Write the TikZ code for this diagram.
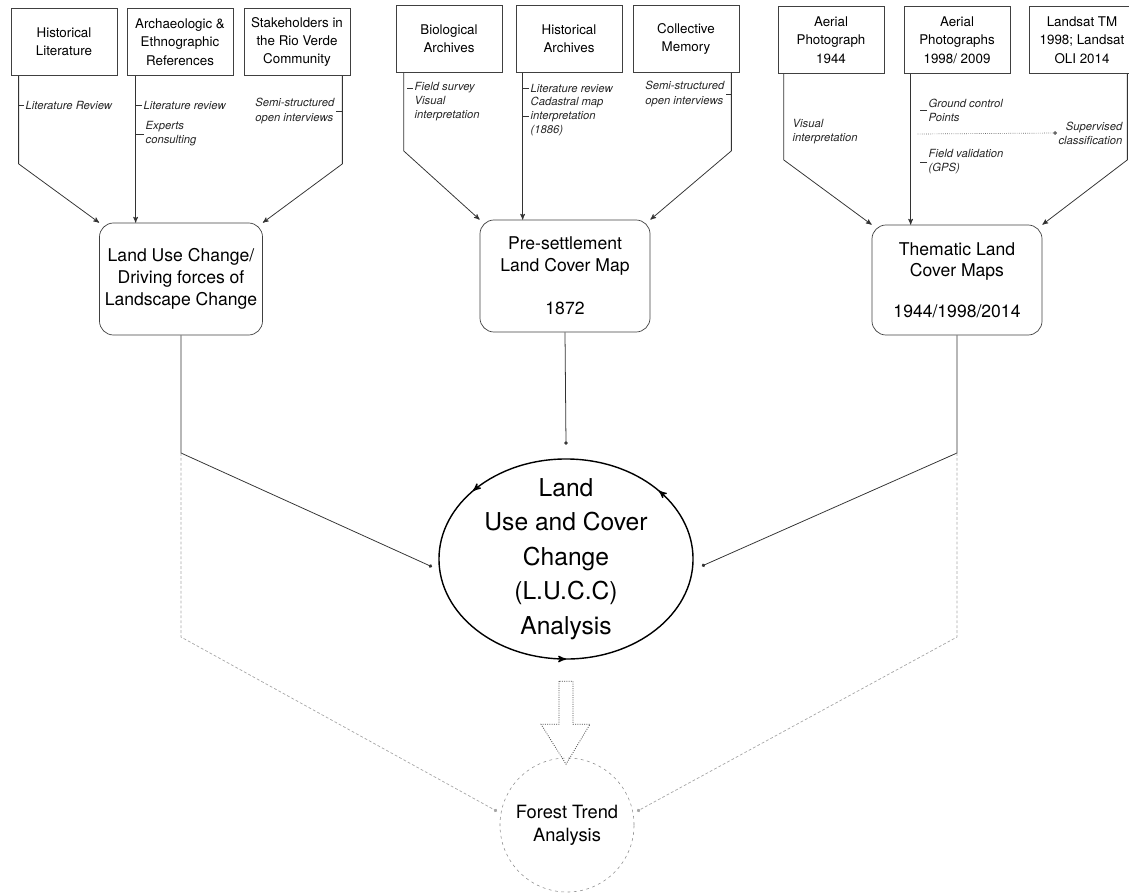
\documentclass[tikz,border=0pt]{standalone}
\usepackage{fontspec}
\setmainfont{TeX Gyre Heros}
\usetikzlibrary{arrows,arrows.meta,shapes.geometric,decorations.markings}

\begin{document}
\begin{tikzpicture}[x=0.025cm,y=-0.025cm,
    src/.style={draw=black!75,line width=0.5pt,minimum width=2.65cm,minimum height=1.675cm,
      align=center,inner sep=1pt,font=\fontsize{9.5}{13}\selectfont},
    hub/.style={draw=black!75,line width=0.5pt,rounded corners=10pt,minimum height=2.8cm,
      align=center,font=\fontsize{12.5}{15.5}\selectfont},
    lab/.style={align=left,inner sep=1pt,font=\itshape\fontsize{8}{10}\selectfont,text=black!85},
    cn/.style={draw=black!80,line width=0.55pt},
    gl/.style={draw=black!35,line width=0.5pt,dash pattern=on 2pt off 1.5pt},
    dotend/.style={-{Circle[length=2.5pt]}},
    >=stealth']
    \useasboundingbox (0,0) rectangle (1129,894);

    % sources
    \node[src] (hl) at (64,42) {Historical\\Literature};
    \node[src] (ae) at (180,42) {Archaeologic \&\\Ethnographic\\References};
    \node[src] (st) at (297,42) {Stakeholders in\\the Rio Verde\\Community};
    \node[src] (ba) at (449,39) {Biological\\Archives};
    \node[src] (ha) at (569,39) {Historical\\Archives};
    \node[src] (cm) at (686,39) {Collective\\Memory};
    \node[src] (ap1) at (831,40) {Aerial\\Photograph\\1944};
    \node[src] (ap2) at (957,40) {Aerial\\Photographs\\1998/ 2009};
    \node[src] (ls) at (1082,40) {Landsat TM\\1998; Landsat\\OLI 2014};

    % products
    \node[hub,minimum width=4.075cm] (luc) at (181,279) {Land Use Change/\\Driving forces of\\Landscape Change};
    \node[hub,minimum width=4.25cm] (ps) at (565,276) {Pre-settlement\\Land Cover Map\\[\baselineskip]1872};
    \node[hub,minimum width=4.25cm,minimum height=2.75cm] (tlc) at (957,280) {Thematic Land\\Cover Maps\\[0.85\baselineskip]1944/1998/2014};

    \node[ellipse,minimum width=6.35cm,minimum height=5cm,inner sep=0,align=center,
      font=\fontsize{17.5}{24.5}\selectfont] (lucc) at (566,559) {Land\\Use and Cover\\Change\\(L.U.C.C)\\Analysis};
    \draw[line width=1pt,decoration={markings,
        mark=at position 0.11 with {\arrow{stealth'}},
        mark=at position 0.39 with {\arrow{stealth'}},
        mark=at position 0.75 with {\arrow{stealth'}}},postaction={decorate}]
      (lucc.center) ellipse [x radius=3.175cm,y radius=2.5cm];

    \node[circle,draw=black!45,dash pattern=on 2pt off 2.5pt,minimum size=3.35cm,align=center,
      font=\fontsize{13}{16.5}\selectfont] (ft) at (567,825) {Forest Trend\\Analysis};

    % group 1
    \draw[cn,->] (hl.south west) ++(8,0) -- ++(0,88) -- (luc.north west);
    \draw[cn,->] (ae.south west) ++(9,0) coordinate (a2) -- (a2 |- luc.north);
    \draw[cn,->] (st.south east) ++(-8,0) -- ++(0,88) -- (luc.north east);
    \node[lab,anchor=west] (r1) at (24,105) {Literature Review};
    \draw[cn] (r1.west) -- ++(-6,0);
    \node[lab,anchor=west] (r2) at (142,105) {Literature review};
    \draw[cn] (r2.west) -- ++(-6,0);
    \node[lab,anchor=west] (r3) at (144,134) {Experts\\consulting};
    \draw[cn] (r3.west) -- ++(-8,0);
    \node[lab,anchor=east] (r4) at (336,111) {Semi-structured\\open interviews};
    \draw[cn] (r4.east) -- ++(6,0);

    % group 2
    \draw[cn,->] (ba.south west) ++(8,0) -- ++(0,78) -- (ps.north west);
    \draw[cn,->] (ha.south west) ++(7,0) coordinate (h2) -- (h2 |- ps.north);
    \draw[cn,->] (cm.south east) ++(-8,0) -- ++(0,78) -- (ps.north east);
    \node[lab,anchor=west] (b1) at (413,88) {Field survey};
    \draw[cn] (b1.west) -- ++(-6,0);
    \node[lab,anchor=north west] (b2) at (413,95) {Visual\\interpretation};
    \node[lab,anchor=west] (h1) at (529,88) {Literature review};
    \draw[cn] (h1.west) -- ++(-6,0);
    \node[lab,anchor=north west] (h2l) at (529,95) {Cadastral map\\interpretation\\(1886)};
    \draw[cn] (h2l.west) -- ++(-6,0);
    \node[lab,anchor=east] (c1) at (726,94) {Semi-structured\\open interviews};
    \draw[cn] (c1.east) -- ++(5,0);

    % group 3
    \draw[cn,->] (ap1.south west) ++(6,0) -- ++(0,86) -- (tlc.north west);
    \draw[cn,->] (ap2.south west) ++(7,0) coordinate (p2) -- (p2 |- tlc.north);
    \draw[cn,->] (ls.south east) ++(-8,0) -- ++(0,86) -- (tlc.north east);
    \node[lab,anchor=west] (v1) at (791,132) {Visual\\interpretation};
    \node[lab,anchor=west] (g1) at (927,110) {Ground control\\Points};
    \draw[cn] (g1.west) -- ++(-7,0);
    \node[lab,anchor=east,align=right] (sc) at (1124,133) {Supervised\\classification};
    \draw[black!60,line width=0.5pt,densely dotted,dotend] (p2 |- 0,134) ++(7,0) -- (sc.west);
    \node[lab,anchor=west] (f1) at (927,162) {Field validation\\(GPS)};
    \draw[cn] (f1.west) -- ++(-7,0);

    % to the analyses
    \coordinate (lk) at (luc.south |- 0,453);
    \coordinate (rk) at (tlc.south |- 0,453);
    \draw[cn,dotend] (ps.south) -- (lucc.north);
    \draw[cn,dotend,shorten >=0.2cm] (luc.south) -- (lk) -- (lucc.185);
    \draw[cn,dotend,shorten >=0.25cm] (tlc.south) -- (rk) -- (lucc.355);
    \draw[gl,dotend,shorten >=3pt] (lk) -- ++(0,184) -- (ft.170);
    \draw[gl,dotend,shorten >=3pt] (rk) -- ++(0,184) -- (ft.10);
    \draw[black!70,densely dotted,line width=0.6pt] (lucc.south) ++(-7,8) -- ++(0,43) -- ++(-18,0)
      -- ++(25,40) -- ++(24,-40) -- ++(-17,0) -- ++(0,-43) -- cycle;
\end{tikzpicture}
\end{document}
